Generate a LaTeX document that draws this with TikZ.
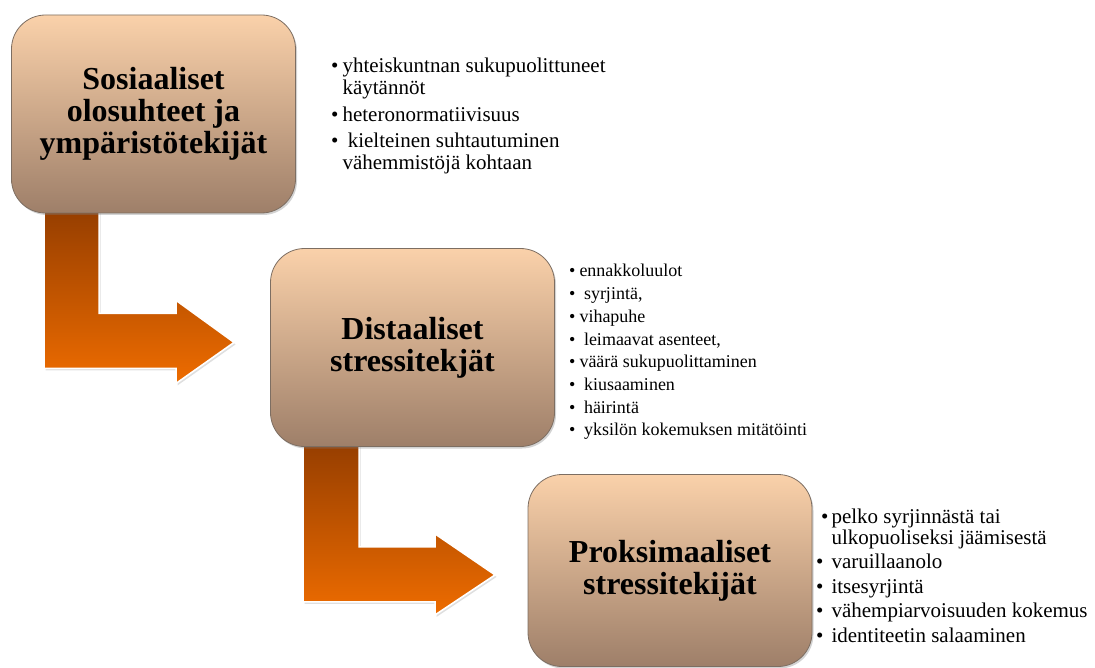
\documentclass[tikz,border=0pt]{standalone}
\usepackage{fontspec}
\setmainfont{Liberation Serif}
\usetikzlibrary{shadows, backgrounds}

\definecolor{boxtop}{RGB}{250,209,170}
\definecolor{boxbottom}{RGB}{158,127,105}
\definecolor{boxline}{RGB}{125,110,98}
\definecolor{arrowtop}{RGB}{150,62,0}
\definecolor{arrowbottom}{RGB}{238,108,0}

\begin{document}
\begin{tikzpicture}[x=1pt, y=-1pt]


\tikzset{stage/.style={shape=rectangle, rounded corners=34pt, draw=boxline, line width=0.8pt, top color=boxtop, bottom color=boxbottom, minimum width=284pt, minimum height=198pt, align=center, font=\rmfamily\fontsize{32}{32}\selectfont\bfseries, drop shadow={opacity=0.35, shadow xshift=1.5pt, shadow yshift=-2pt}}}
\tikzset{bullets/.style={anchor=base west, inner sep=0pt, font=\rmfamily}}
\tikzset{elbow/.style={draw=white, line width=1.6pt, top color=arrowtop, bottom color=arrowbottom, drop shadow={opacity=0.25, shadow xshift=1.5pt, shadow yshift=-2pt}}}
\useasboundingbox (0,0) rectangle (1095,668);
\node[stage] (social) at (153.5,114) {Sosiaaliset\\olosuhteet ja\\ympäristötekijät};
\node[stage] (distal) at (412.5,347.5) {Distaaliset\\stressitekjät};
\node[stage, minimum height=192pt] (proximal) at (670,570.5) {Proksimaaliset\\stressitekijät};
\begin{scope}[on background layer]
\draw[elbow, shift={(social.south west)}] (33,-4) -- (88,-4) -- (88,100) -- (165,100) -- (165,87) -- (223,129) -- (165,170) -- (165,155) -- (33,155) -- cycle;
\draw[elbow, shift={(distal.south west)}] (33,-4) -- (89,-4) -- (89,100) -- (165,100) -- (165,87) -- (225,128) -- (165,168) -- (165,155) -- (33,155) -- cycle;
\end{scope}
\node[bullets] (social items) at (331,73) {\fontsize{21}{22}\selectfont
\begin{tabular}[t]{@{}l@{\hspace{4pt}}l@{}}
• & yhteiskuntnan sukupuolittuneet\\
  & käytännöt\\[5pt]
• & heteronormatiivisuus\\[4pt]
• & \ kielteinen suhtautuminen\\
  & vähemmistöjä kohtaan
\end{tabular}};
\node[bullets] (distal items) at (569,277) {\fontsize{18}{22.7}\selectfont
\begin{tabular}[t]{@{}l@{\hspace{4pt}}l@{}}
• & ennakkoluulot\\
• & \ syrjintä,\\
• & vihapuhe\\
• & \ leimaavat asenteet,\\
• & väärä sukupuolittaminen\\
• & \ kiusaaminen\\
• & \ häirintä\\
• & \ yksilön kokemuksen mitätöinti
\end{tabular}};
\node[bullets] (proximal items) at (816,523) {\fontsize{21}{21}\selectfont
\begin{tabular}[t]{@{}l@{\hspace{3pt}}l@{}}
\hspace{5pt}• & pelko syrjinnästä tai\\
  & ulkopuoliseksi jäämisestä\\[3pt]
• & varuillaanolo\\[4pt]
• & itsesyrjintä\\[3pt]
• & vähempiarvoisuuden kokemus\\[4pt]
• & identiteetin salaaminen
\end{tabular}};

\end{tikzpicture}
\end{document}
